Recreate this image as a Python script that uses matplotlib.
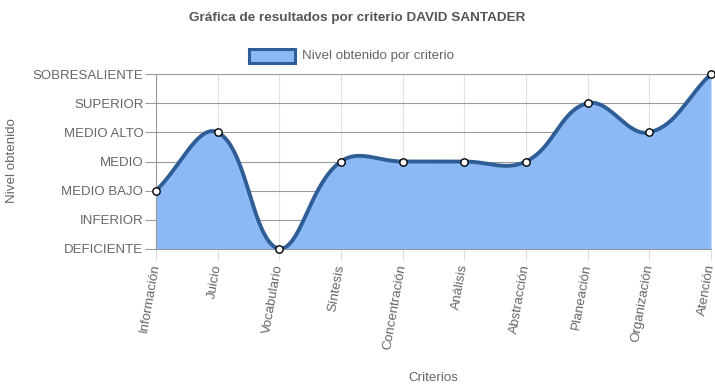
import numpy as np
import matplotlib.pyplot as plt

plt.rcParams['font.family'] = ['Liberation Sans', 'DejaVu Sans']

criterios = ['Información', 'Juicio', 'Vocabulario', 'Síntesis', 'Concentración',
             'Análisis', 'Abstracción', 'Planeación', 'Organización', 'Atención']
niveles = ['DEFICIENTE', 'INFERIOR', 'MEDIO BAJO', 'MEDIO', 'MEDIO ALTO',
           'SUPERIOR', 'SOBRESALIENTE']
valores = [2, 4, 0, 3, 3, 3, 3, 5, 4, 6]

# curva suavizada tipo Chart.js (tension 0.4), calculada en escala de pixeles
def curva_suave(ys, dx, dy, ymax, tension=0.4, n=40):
    px = np.arange(len(ys)) * dx
    py = np.array(ys, dtype=float) * dy
    cps = []
    for i in range(len(ys)):
        a = max(i - 1, 0)
        b = min(i + 1, len(ys) - 1)
        d01 = np.hypot(px[i] - px[a], py[i] - py[a])
        d12 = np.hypot(px[b] - px[i], py[b] - py[i])
        tot = d01 + d12
        s01 = d01 / tot if tot else 0
        s12 = d12 / tot if tot else 0
        fa, fb = tension * s01, tension * s12
        prev = (px[i] - fa * (px[b] - px[a]), py[i] - fa * (py[b] - py[a]))
        nxt = (px[i] + fb * (px[b] - px[a]), py[i] + fb * (py[b] - py[a]))
        prev = (prev[0], min(max(prev[1], 0), ymax * dy))
        nxt = (nxt[0], min(max(nxt[1], 0), ymax * dy))
        cps.append((prev, nxt))
    xs_out, ys_out = [], []
    t = np.linspace(0, 1, n)
    for i in range(len(ys) - 1):
        p0 = np.array([px[i], py[i]])
        p1 = np.array(cps[i][1])
        p2 = np.array(cps[i + 1][0])
        p3 = np.array([px[i + 1], py[i + 1]])
        seg = ((1 - t) ** 3)[:, None] * p0 + (3 * (1 - t) ** 2 * t)[:, None] * p1 \
            + (3 * (1 - t) * t ** 2)[:, None] * p2 + (t ** 3)[:, None] * p3
        xs_out.extend(seg[:, 0] / dx)
        ys_out.extend(seg[:, 1] / dy)
    return np.array(xs_out), np.array(ys_out)

fig = plt.figure(figsize=(7.15, 3.91), dpi=100)
ax = fig.add_axes([0.218, 0.3632, 0.7764, 0.4475])

x = np.arange(len(criterios))
cx, cy = curva_suave(valores, 61.7, 29.2, len(niveles) - 1)

linea = '#2f5d95'
relleno = '#8ab9f6'
ax.fill_between(cx, cy, 0, color=relleno, lw=0, zorder=1)
ax.plot(cx, cy, color=linea, lw=2.8, zorder=3, solid_capstyle='round')
ax.scatter(x, valores, s=28, facecolor='white', edgecolor='black', lw=1, zorder=4, clip_on=False)

ax.set_xlim(0, len(criterios) - 1)
ax.set_ylim(0, len(niveles) - 1)
ax.set_yticks(range(len(niveles)))
ax.set_yticklabels(niveles, fontsize=9.5, color='#666666')
ax.set_xticks(x)
ax.set_xticklabels(criterios, fontsize=9.6, color='#666666', rotation=80,
                   ha='right', va='center', rotation_mode='anchor')
ax.tick_params(axis='y', length=8, color='#999999', pad=1)
ax.tick_params(axis='x', length=8, color='#dddddd', pad=3)

ax.grid(axis='y', color='#9a9a9a', lw=0.8, zorder=0)
ax.grid(axis='x', color='#e2e2e2', lw=0.8, zorder=0)
ax.set_axisbelow(True)
for s in ['top', 'right']:
    ax.spines[s].set_visible(False)
ax.spines['left'].set_color('#999999')
ax.spines['bottom'].set_color('#999999')

fig.text(12 / 715, 1 - 161 / 391, 'Nivel obtenido', rotation=90, ha='center', va='center',
         fontsize=9.6, color='#666666')
fig.text(433 / 715, 1 - 378 / 391, 'Criterios', ha='center', va='center',
         fontsize=9.6, color='#666666')

fig.text(0.5, 1 - 18 / 391, 'Gráfica de resultados por criterio DAVID SANTADER',
         ha='center', va='center', fontsize=9.7, fontweight='bold', color='#555555')

# leyenda
fig.patches.append(plt.Rectangle((249 / 715, 1 - 63 / 391), 46 / 715, 14 / 391,
                                 transform=fig.transFigure, facecolor=relleno,
                                 edgecolor=linea, lw=2.2))
fig.text(302 / 715, 1 - 56 / 391, 'Nivel obtenido por criterio', ha='left', va='center',
         fontsize=9.6, color='#666666')

fig.savefig('out.png', dpi=100)
